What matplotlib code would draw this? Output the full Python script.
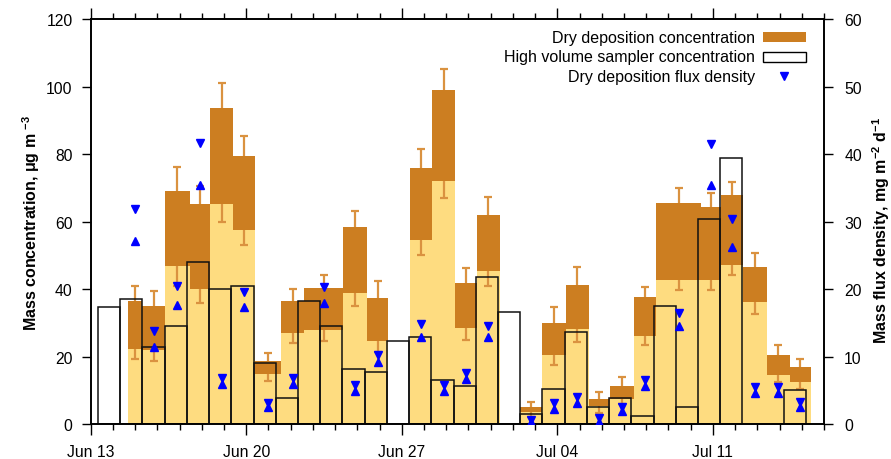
import matplotlib
matplotlib.use('Agg')
import matplotlib.pyplot as plt
import matplotlib.dates as mdates
from matplotlib.patches import Rectangle
import numpy as np
import pandas as pd

plt.rcParams['font.family'] = ['Liberation Sans', 'DejaVu Sans']
plt.rcParams['mathtext.default'] = 'regular'

t0 = pd.Timestamp('2015-06-13')

# high volume sampler: start of each 24 h sample (days after Jun 13) and concentration
hvs_start = [0.33, 1.33, 2.33, 3.33, 4.33, 5.33, 6.33, 7.33, 8.33, 9.33,
             10.33, 11.33, 12.33, 13.33, 14.33, 15.33, 16.33, 17.33, 18.33, 19.33,
             20.33, 21.33, 22.33, 23.33, 24.33, 25.33, 26.33, 27.33, 28.33, 31.2]
hvs_conc = [34.7, 37.2, 22.8, 29.2, 48.0, 40.2, 41.1, 18.1, 7.8, 36.6,
            29.2, 16.5, 15.5, 24.6, 26.0, 13.0, 11.4, 43.7, 33.4, 3.0,
            10.5, 27.3, 5.2, 7.9, 2.5, 35.0, 5.0, 60.7, 78.9, 10.2]

# dry deposition samples: exposure start / end (days after Jun 13)
dep_start = [1.69, 2.32, 3.35, 4.46, 5.37, 6.41, 7.39, 8.56, 9.61, 11.37,
             12.43, 14.37, 15.37, 16.40, 17.39, 19.34, 20.33, 21.40, 22.41, 23.35,
             24.44, 25.45, 27.48, 28.38, 29.35, 30.43, 31.46]
dep_end = [2.32, 3.35, 4.46, 5.37, 6.41, 7.39, 8.56, 9.61, 11.37, 12.43,
           13.39, 15.37, 16.40, 17.39, 18.41, 20.33, 21.40, 22.41, 23.35, 24.44,
           25.45, 27.48, 28.38, 29.35, 30.43, 31.46, 32.40]

# concentration range derived from deposition (low / high estimate) and their errors
dep_low = [22.4, 22.1, 47.0, 40.1, 65.4, 57.7, 14.9, 27.0, 27.8, 39.0,
           24.8, 54.6, 72.1, 28.4, 45.4, 3.6, 20.6, 28.2, 5.4, 7.5,
           26.1, 42.9, 42.9, 47.3, 36.3, 14.6, 12.6]
dep_high = [36.4, 35.0, 69.1, 65.4, 93.6, 79.5, 18.7, 36.6, 40.4, 58.4,
            37.4, 75.8, 99.1, 41.9, 61.9, 5.0, 30.0, 41.3, 7.5, 11.3,
            37.7, 65.7, 64.4, 67.9, 46.5, 20.6, 16.9]
err_low = [3.0, 3.2, 5.9, 4.2, 5.4, 4.7, 2.2, 2.8, 3.0, 3.8,
           3.3, 4.3, 5.0, 3.3, 4.3, 1.5, 3.0, 3.7, 1.9, 1.5,
           2.5, 3.1, 3.0, 3.1, 3.6, 2.2, 2.0]
err_high = [4.6, 4.4, 7.2, 5.3, 7.5, 5.8, 2.4, 3.5, 3.9, 4.9,
            5.2, 5.7, 6.2, 4.4, 5.5, 1.7, 4.7, 5.2, 2.2, 2.6,
            3.1, 4.3, 4.0, 4.0, 4.2, 2.9, 2.5]

# flux density, mg m-2 d-1 (upper / lower estimate)
flux_up = [31.9, 13.8, 20.5, 41.7, 6.9, 19.6, 3.2, 6.8, 20.4, 5.8,
           10.3, 14.8, 5.8, 7.6, 14.6, 0.7, 3.1, 4.0, 0.9, 2.6,
           6.5, 16.5, 41.5, 30.4, 5.5, 5.5, 3.3]
flux_low = [27.1, 11.5, 17.7, 35.4, 6.0, 17.4, 2.5, 6.0, 17.9, 5.0,
            9.2, 13.0, 5.0, 6.7, 12.9, 0.3, 2.3, 3.2, 0.4, 1.9,
            5.7, 14.6, 35.5, 26.3, 4.6, 4.6, 2.6]

week_ticks = ['2015-06-13', '2015-06-20', '2015-06-27', '2015-07-04', '2015-07-11']

dark = '#CC7E21'
light = '#FEDC80'
whisk = '#DA9240'

base = mdates.date2num(t0)
d0 = base + np.array(dep_start)
d1 = base + np.array(dep_end)
dmid = (d0 + d1) / 2
low = np.array(dep_low)
high = np.array(dep_high)

fig, ax = plt.subplots(figsize=(8.91, 4.60), dpi=100)
fig.subplots_adjust(left=0.1018, right=0.9248, bottom=0.0754, top=0.9559)

# each sample: light part up to the low estimate, dark band between low and high
for i in range(len(d0)):
    ax.bar(d0[i], low[i], width=d1[i] - d0[i], align='edge', color=light,
           edgecolor='none', zorder=2)
    ax.bar(d0[i], high[i] - low[i], bottom=low[i], width=d1[i] - d0[i],
           align='edge', color=dark, edgecolor='none', zorder=2)

ax.vlines(dmid, high, high + np.array(err_high), color=whisk, lw=1.6, zorder=3)
ax.vlines(dmid, low - np.array(err_low), low, color=whisk, lw=1.6, zorder=3)
ax.plot(dmid, high + np.array(err_high), ls='none', marker='_', ms=6, mew=1.6,
        color=whisk, zorder=3)
ax.plot(dmid, low - np.array(err_low), ls='none', marker='_', ms=6, mew=1.6,
        color=whisk, zorder=3)

h0 = base + np.array(hvs_start)
ax.bar(h0, hvs_conc, width=1.0, align='edge', fill=False, edgecolor='#111111',
       linewidth=1.1, zorder=4)

ax.set_xlim(base, base + 33)
ax.set_ylim(0, 120)
ax.set_yticks(np.arange(0, 121, 20))
ax.set_xticks(mdates.date2num(pd.to_datetime(week_ticks)))
ax.xaxis.set_minor_locator(mdates.DayLocator())
ax.xaxis.set_major_formatter(mdates.DateFormatter('%b %d'))
ax.tick_params(axis='both', which='both', direction='out', labelsize=11.3, width=1.0)
ax.tick_params(axis='x', which='major', length=8, pad=6.5, top=True)
ax.tick_params(axis='x', which='minor', length=4, top=True)
ax.tick_params(axis='y', length=6.5, pad=6.5, right=False)
ax.set_ylabel('Mass concentration, μg m $^{-3}$', fontsize=11.5, fontweight='bold')
ax.yaxis.set_label_coords(-0.067, 0.5)

ax2 = ax.twinx()
ax2.set_ylim(0, 60)
ax2.set_yticks(np.arange(0, 61, 10))
ax2.tick_params(axis='y', direction='out', length=6.5, pad=8, labelsize=11.3, width=1.0)
ax2.plot(dmid, flux_up, ls='none', marker='v', ms=6, color='blue', zorder=5)
ax2.plot(dmid, flux_low, ls='none', marker='^', ms=6, color='blue', zorder=5)
ax2.set_ylabel('Mass flux density, mg m$^{-2}$ d$^{-1}$', fontsize=11.5,
               fontweight='bold')
ax2.yaxis.set_label_coords(1.0625, 0.48)

for a in (ax, ax2):
    for s in a.spines.values():
        s.set_linewidth(1.2)

# key, right-aligned text with the sample to its right
rows = [0.9556, 0.9077, 0.8593]
names = ['Dry deposition concentration', 'High volume sampler concentration',
         'Dry deposition flux density']
for y, name in zip(rows, names):
    ax2.text(0.906, y, name, transform=ax2.transAxes, ha='right', va='center',
             fontsize=11.5)
ax2.add_patch(Rectangle((0.9164, rows[0] - 0.0123), 0.0591, 0.0247,
                        transform=ax2.transAxes, facecolor=dark, edgecolor='none'))
ax2.add_patch(Rectangle((0.9164, rows[1] - 0.0123), 0.0591, 0.0247,
                        transform=ax2.transAxes, facecolor='white',
                        edgecolor='black', linewidth=1.0))
ax2.plot([0.9455], [rows[2]], transform=ax2.transAxes, ls='none', marker='v',
         ms=6, color='blue')

fig.savefig('out.png', dpi=100)
